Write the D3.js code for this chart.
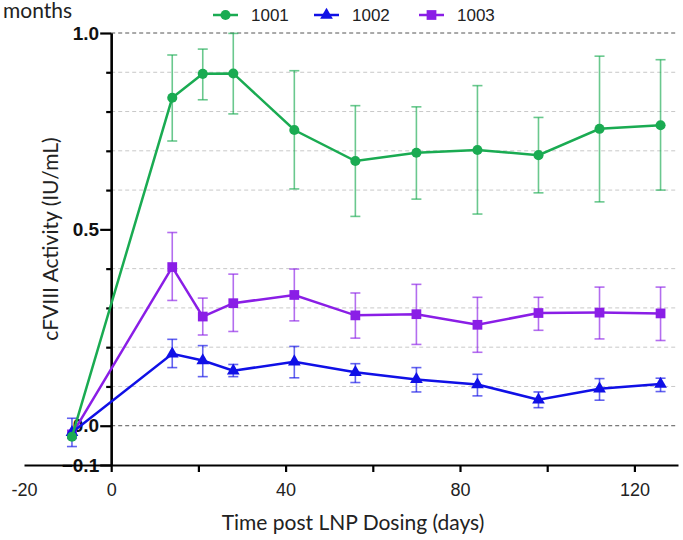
<!DOCTYPE html>
<html>
<head>
<meta charset="utf-8">
<script src="https://cdn.jsdelivr.net/npm/d3@7"></script>
<style>
  body { margin: 0; background: #fff; }
  svg { display: block; }
  .grid { stroke: #c8c8c8; stroke-dasharray: 4,3; stroke-width: 1; }
  .grid.dark { stroke: #555; }
  .axis path, .axis line { stroke: #000; stroke-width: 2.2; }
  .ytick text { font-family: "Liberation Sans", Arial, sans-serif; font-weight: bold; font-size: 19px; fill: #111; }
  .xtick text { font-family: "Liberation Sans", Arial, sans-serif; font-size: 18px; fill: #222; }
  .title { font-family: Lato, "Noto Sans", sans-serif; font-size: 21px; fill: #222; }
  .legend text { font-family: "Liberation Sans", Arial, sans-serif; font-size: 17px; fill: #222; }
</style>
</head>
<body>
<svg width="683" height="540"></svg>
<script>
var svg = d3.select("svg");

// days post dosing
var days = [-9, 14, 21, 28, 42, 56, 70, 84, 98, 112, 126];
var seriesNames = ["1001", "1002", "1003"];
// mean cFVIII activity (IU/mL) with error bar ends
var mean1001 = [-0.028, 0.835, 0.896, 0.897, 0.753, 0.674, 0.695, 0.702, 0.689, 0.756, 0.765];
var lo1001   = [-0.028, 0.725, 0.830, 0.794, 0.603, 0.533, 0.577, 0.539, 0.593, 0.570, 0.600];
var hi1001   = [-0.028, 0.944, 0.959, 0.999, 0.904, 0.815, 0.812, 0.866, 0.785, 0.941, 0.932];
var mean1002 = [-0.017, 0.183, 0.166, 0.140, 0.163, 0.136, 0.118, 0.105, 0.066, 0.094, 0.106];
var lo1002   = [-0.053, 0.148, 0.125, 0.125, 0.122, 0.110, 0.086, 0.076, 0.046, 0.065, 0.087];
var hi1002   = [0.019, 0.220, 0.204, 0.156, 0.202, 0.158, 0.148, 0.131, 0.086, 0.120, 0.121];
var mean1003 = [-0.022, 0.404, 0.278, 0.312, 0.333, 0.281, 0.284, 0.257, 0.287, 0.288, 0.286];
var lo1003   = [-0.022, 0.319, 0.231, 0.240, 0.267, 0.223, 0.207, 0.187, 0.243, 0.221, 0.217];
var hi1003   = [-0.022, 0.492, 0.325, 0.386, 0.399, 0.338, 0.360, 0.327, 0.327, 0.353, 0.353];
var yGrid = [0.1, 0.2, 0.3, 0.4, 0.6, 0.7, 0.8, 0.9];
var yLabels = [-0.1, 0.0, 0.5, 1.0];
var xTicks = [0, 20, 40, 60, 80, 100, 120];
var xLabels = [-20, 0, 40, 80, 120];

var colors = {"1001": "#1aab52", "1002": "#1010e6", "1003": "#8a1ee6"};
var symbols = {"1001": d3.symbolCircle, "1002": d3.symbolTriangle, "1003": d3.symbolSquare};
var symSize = {"1001": 80, "1002": 70, "1003": 95};

function rows(m, lo, hi) {
    return days.map(function(d, i) { return {x: d, y: m[i], lo: lo[i], hi: hi[i]}; });
}
var series = [
    {name: "1003", values: rows(mean1003, lo1003, hi1003)},
    {name: "1002", values: rows(mean1002, lo1002, hi1002)},
    {name: "1001", values: rows(mean1001, lo1001, hi1001)}
];

var x = d3.scaleLinear().domain([-20, 130]).range([24, 678]);
var y = d3.scaleLinear().domain([-0.1, 1.0]).range([465, 33]);

// grid
svg.selectAll(".grid.light").data(yGrid).enter().append("line")
    .attr("class", "grid light")
    .attr("x1", x(0)).attr("x2", x(130))
    .attr("y1", function(d) { return y(d); }).attr("y2", function(d) { return y(d); });
svg.selectAll(".grid.dark").data([0, 1]).enter().append("line")
    .attr("class", "grid dark")
    .attr("x1", x(0)).attr("x2", x(130))
    .attr("y1", function(d) { return y(d); }).attr("y2", function(d) { return y(d); });

// y axis (minor ticks)
svg.append("g")
    .attr("class", "axis")
    .attr("transform", "translate(" + x(0) + ",0)")
    .call(d3.axisLeft(y).tickValues(yGrid).tickSize(5).tickFormat("").tickSizeOuter(0));
// y axis (labelled ticks)
svg.append("g")
    .attr("class", "axis ytick")
    .attr("transform", "translate(" + x(0) + ",0)")
    .call(d3.axisLeft(y).tickValues(yLabels).tickSize(11).tickPadding(1).tickSizeOuter(0)
        .tickFormat(d3.format(".1f")));

// x axis
var xa = svg.append("g")
    .attr("class", "axis xtick")
    .attr("transform", "translate(0," + y(-0.1) + ")")
    .call(d3.axisBottom(x).tickValues([-20].concat(xTicks)).tickSize(7).tickPadding(11).tickSizeOuter(0)
        .tickFormat(function(d) { return xLabels.indexOf(d) >= 0 ? d : ""; }));
xa.selectAll(".tick").filter(function(d) { return d === -20; }).select("line").remove();

// series
var line = d3.line().x(function(d) { return x(d.x); }).y(function(d) { return y(d.y); });

series.forEach(function(s) {
    var c = colors[s.name];
    var g = svg.append("g");
    var eb = g.selectAll(".err").data(s.values.filter(function(d) { return d.hi > d.lo; })).enter().append("g")
        .attr("stroke", c).attr("stroke-opacity", 0.65).attr("stroke-width", 1.6);
    eb.append("line")
        .attr("x1", function(d) { return x(d.x); }).attr("x2", function(d) { return x(d.x); })
        .attr("y1", function(d) { return y(d.lo); }).attr("y2", function(d) { return y(d.hi); });
    eb.append("line")
        .attr("x1", function(d) { return x(d.x) - 5; }).attr("x2", function(d) { return x(d.x) + 5; })
        .attr("y1", function(d) { return y(d.lo); }).attr("y2", function(d) { return y(d.lo); });
    eb.append("line")
        .attr("x1", function(d) { return x(d.x) - 5; }).attr("x2", function(d) { return x(d.x) + 5; })
        .attr("y1", function(d) { return y(d.hi); }).attr("y2", function(d) { return y(d.hi); });
    g.append("path")
        .attr("d", line(s.values))
        .attr("fill", "none").attr("stroke", c).attr("stroke-width", 2.5);
    g.selectAll(".pt").data(s.values).enter().append("path")
        .attr("d", d3.symbol().type(symbols[s.name]).size(symSize[s.name]))
        .attr("transform", function(d) { return "translate(" + x(d.x) + "," + y(d.y) + ")"; })
        .attr("fill", c);
});

// legend
var legX = [213, 314, 419];
var leg = svg.append("g").attr("class", "legend");
seriesNames.forEach(function(n, i) {
    var lg = leg.append("g").attr("transform", "translate(" + legX[i] + ",15)");
    lg.append("line").attr("x1", 0).attr("x2", 25).attr("stroke", colors[n]).attr("stroke-width", 2.5);
    lg.append("path").attr("d", d3.symbol().type(symbols[n]).size(symSize[n])())
        .attr("transform", "translate(12.5,0)").attr("fill", colors[n]);
    lg.append("text").attr("x", 38).attr("y", 6).text(n);
});

// titles
svg.append("text").attr("class", "title")
    .attr("x", 353).attr("y", 530).attr("text-anchor", "middle")
    .text("Time post LNP Dosing (days)");
svg.append("text").attr("class", "title")
    .attr("transform", "translate(58,239) rotate(-90)").attr("text-anchor", "middle")
    .text("cFVIII Activity (IU/mL)");
svg.append("text").attr("class", "title")
    .attr("x", 3).attr("y", 18).style("font-size", "21px").attr("fill", "#333")
    .text("months");
</script>
</body>
</html>
